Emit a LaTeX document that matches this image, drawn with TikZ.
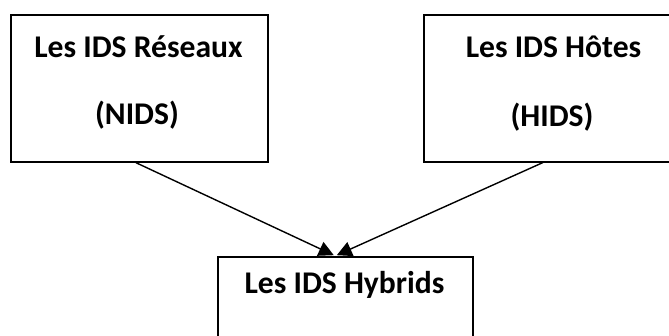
\documentclass[tikz,border=0pt]{standalone}
\usepackage{fontspec}
\setmainfont{Carlito}
\usetikzlibrary{arrows.meta,calc}

\tikzset{
  idsbox/.style={draw=black, line width=1.6pt, inner sep=0pt, anchor=north west},
  idslabel/.style={anchor=base, inner sep=0pt, font=\bfseries\fontsize{31.6}{38}\selectfont},
  feed/.style={draw=black, line width=1.4pt, -{Triangle[length=15pt,width=15pt]}}
}

\begin{document}
\begin{tikzpicture}[x=1pt, y=-1pt]
  \clip (0,0) rectangle (669,335);
  \fill[white] (0,0) rectangle (669,335);

  % the three families of IDS
  \node[idsbox, minimum width=257pt, minimum height=147pt] (nids) at (10,14) {};
  \node[idsbox, minimum width=261pt, minimum height=147pt] (hids) at (423,14) {};
  \node[idsbox, minimum width=255pt, minimum height=120pt] (hyb) at (217,256) {};

  % labels
  \node[idslabel] (nidsA) at (138.5,57) {Les IDS Réseaux};
  \node[idslabel] (nidsB) at (137,124) {(NIDS)};
  \node[idslabel] (hidsA) at (553.5,57) {Les IDS Hôtes};
  \node[idslabel] (hidsB) at (552,126) {(HIDS)};
  \node[idslabel] (hybA) at (344.5,293) {Les IDS Hybrids};

  % both network and host IDS feed the hybrid one
  \coordinate (inL) at ($(hyb.north)+(-11.5,-0.8)$);
  \coordinate (inR) at ($(hyb.north)+(-8.5,-0.8)$);
  \draw[feed] ([xshift=-3.5pt]nids.south) -- (inL);
  \draw[feed] ([xshift=-11.5pt]hids.south) -- (inR);
\end{tikzpicture}
\end{document}
